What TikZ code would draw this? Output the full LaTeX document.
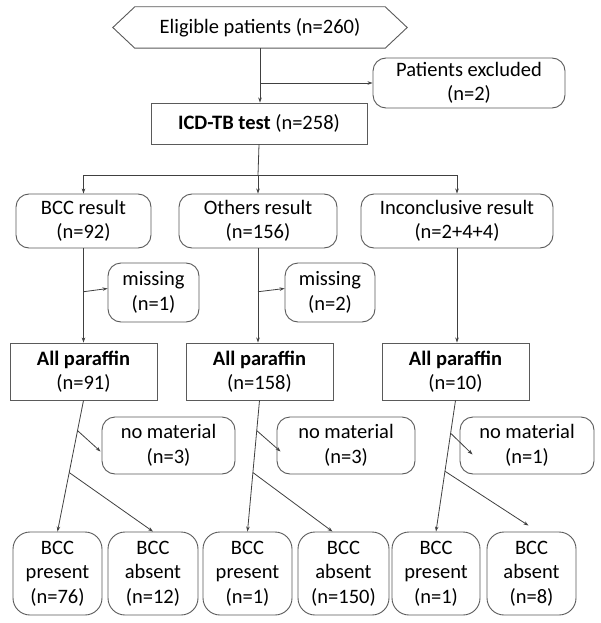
\documentclass[tikz,border=0pt]{standalone}
\usepackage{fontspec}
\setmainfont{Carlito}
\usetikzlibrary{arrows.meta,calc}
\definecolor{linegray}{HTML}{404040}
\definecolor{boxgray}{HTML}{5A5A5A}
\begin{document}
\begin{tikzpicture}[x=1pt,y=-1pt,
  txt/.style={font=\fontsize{20.5}{24.5}\selectfont, align=center, inner sep=0pt, text=black},
  rbox/.style={txt, draw=boxgray, line width=0.9pt, rounded corners=13pt},
  sbox/.style={txt, draw=boxgray, line width=0.9pt},
  conn/.style={draw=linegray, line width=0.8pt, -{Stealth[length=5pt,width=3.5pt]}},
  plainline/.style={draw=linegray, line width=0.8pt}
]
\useasboundingbox (0,0) rectangle (600,623);
\fill[white] (0,0) rectangle (600,623);

% top hexagon
\node[txt, minimum width=294pt, minimum height=41pt] (elig) at (260,27.5) {Eligible patients (n=260)};
\draw[boxgray, line width=0.9pt] (elig.west) -- ($(elig.north west)+(22,0)$) -- ($(elig.north east)+(-22,0)$) -- (elig.east) -- ($(elig.south east)+(-22,0)$) -- ($(elig.south west)+(22,0)$) -- cycle;

\node[rbox, minimum width=192pt, minimum height=50pt] (excl) at (469,83) {Patients excluded\\(n=2)};
\node[sbox, minimum width=216pt, minimum height=41pt] (icd) at (259,123.5) {\textbf{ICD-TB test} (n=258)};

\draw[conn] (elig.south) -- (elig.south |- icd.north);
\coordinate (bx) at (elig.south |- excl.west);
\draw[conn] (bx) -- (excl.west);

% results
\node[rbox, minimum width=135pt, minimum height=54pt] (bcc) at (83.5,221) {BCC result\\(n=92)};
\node[rbox, minimum width=158pt, minimum height=54pt] (oth) at (258,221) {Others result\\(n=156)};
\node[rbox, minimum width=192pt, minimum height=54pt] (inc) at (457,221) {Inconclusive result\\(n=2+4+4)};

\coordinate (hub) at (258,175);
\draw[plainline] (icd.south) -- (hub);
\draw[conn] (hub) -| (bcc.north);
\draw[conn] (hub) -- (oth.north);
\draw[conn] (hub) -| (inc.north);

% missing
\node[rbox, minimum width=91pt, minimum height=59pt] (miss1) at (153.5,292.5) {missing\\(n=1)};
\node[rbox, minimum width=90pt, minimum height=59pt] (miss2) at (330,292.5) {missing\\(n=2)};

% paraffin
\node[sbox, minimum width=147pt, minimum height=57pt] (par1) at (83.5,371.5) {\textbf{All paraffin}\\(n=91)};
\node[sbox, minimum width=147pt, minimum height=57pt] (par2) at (259.5,371.5) {\textbf{All paraffin}\\(n=158)};
\node[sbox, minimum width=147pt, minimum height=57pt] (par3) at (455.5,371.5) {\textbf{All paraffin}\\(n=10)};

\draw[conn] (bcc.south) -- (bcc.south |- par1.north);
\coordinate (m1) at ($(bcc.south)!0.46!(bcc.south |- par1.north)$);
\draw[conn] (m1) -- ($(miss1.west)+(0,-4)$);
\draw[conn] (oth.south) -- (oth.south |- par2.north);
\coordinate (m2) at ($(oth.south)!0.46!(oth.south |- par2.north)$);
\draw[conn] (m2) -- ($(miss2.west)+(0,-4)$);
\draw[conn] (inc.south) -- (inc.south |- par3.north);

% no material
\node[rbox, minimum width=133pt, minimum height=57pt] (nm1) at (168.5,445.5) {no material\\(n=3)};
\node[rbox, minimum width=138pt, minimum height=57pt] (nm2) at (346,445.5) {no material\\(n=3)};
\node[rbox, minimum width=134pt, minimum height=57pt] (nm3) at (527,445.5) {no material\\(n=1)};

% bottom
\tikzset{bbox/.style={rbox, rounded corners=17pt, minimum height=83pt}}
\node[bbox, minimum width=89pt] (p1) at (57.5,573.5) {BCC\\present\\(n=76)};
\node[bbox, minimum width=90pt] (a1) at (153,573.5) {BCC\\absent\\(n=12)};
\node[bbox, minimum width=89pt] (p2) at (247.5,573.5) {BCC\\present\\(n=1)};
\node[bbox, minimum width=91pt] (a2) at (343.5,573.5) {BCC\\absent\\(n=150)};
\node[bbox, minimum width=88pt] (p3) at (436,573.5) {BCC\\present\\(n=1)};
\node[bbox, minimum width=89pt] (a3) at (531.5,573.5) {BCC\\absent\\(n=8)};

\draw[conn] (par1.south) -- (p1.north);
\coordinate (b1) at ($(par1.south)!0.23!(p1.north)$);
\coordinate (c1) at ($(par1.south)!0.55!(p1.north)$);
\draw[conn] (b1) -- ($(nm1.west)+(-1,6)$);
\draw[conn] (c1) -- (a1.north);

\draw[conn] (par2.south) -- (p2.north);
\coordinate (b2) at ($(par2.south)!0.23!(p2.north)$);
\coordinate (c2) at ($(par2.south)!0.55!(p2.north)$);
\draw[conn] (b2) -- ($(nm2.west)+(4,6)$);
\draw[conn] (c2) -- ($(a2.north)+(-11,0)$);

\draw[conn] (par3.south) -- (p3.north);
\coordinate (b3) at ($(par3.south)!0.25!(p3.north)$);
\coordinate (c3) at ($(par3.south)!0.54!(p3.north)$);
\draw[conn] (b3) -- ($(nm3.west)+(13,9)$);
\draw[conn] (c3) -- ($(a3.north)+(-3,-6)$);
\end{tikzpicture}
\end{document}
